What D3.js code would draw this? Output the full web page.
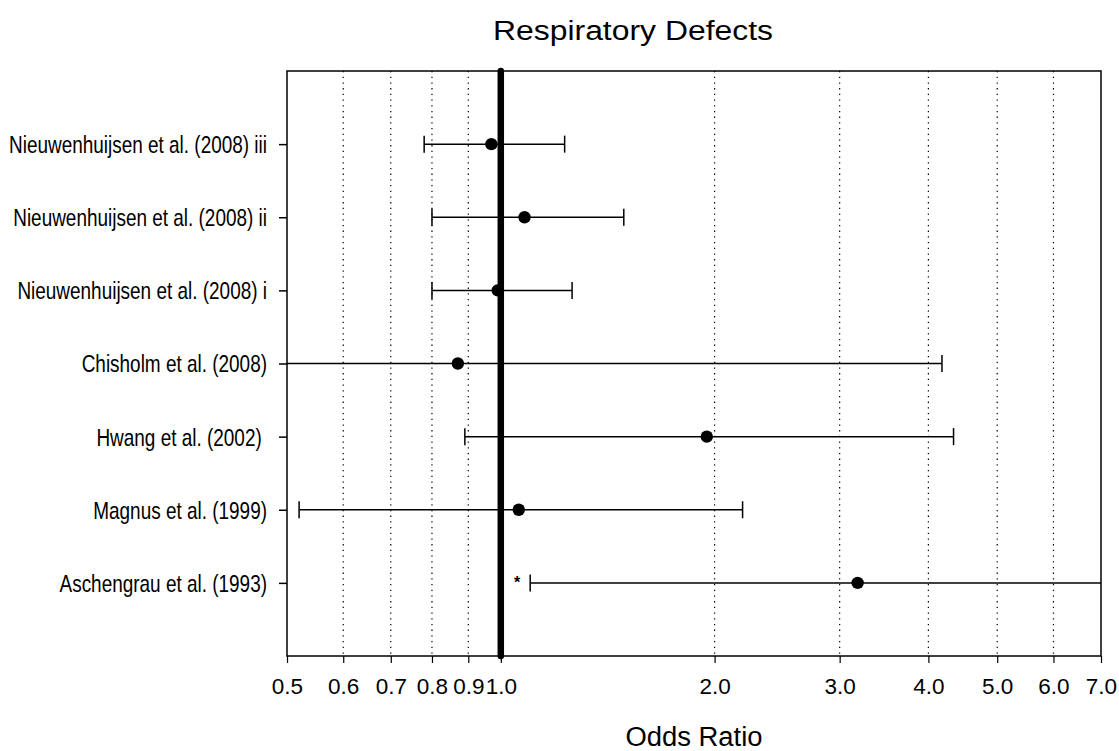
<!DOCTYPE html>
<html>
<head>
<meta charset="utf-8">
<script src="https://cdn.jsdelivr.net/npm/d3@7"></script>
<style>
  body { margin: 0; background: #fff; }
  svg { display: block; }
  text { font-family: "Liberation Sans", Arial, sans-serif; fill: #000; }
</style>
</head>
<body>
<div id="chart"></div>
<script>
'use strict';

// studies, top to bottom
const studies = [
    'Nieuwenhuijsen et al. (2008) iii',
    'Nieuwenhuijsen et al. (2008) ii',
    'Nieuwenhuijsen et al. (2008) i',
    'Chisholm et al. (2008)',
    'Hwang et al. (2002) ',
    'Magnus et al. (1999)',
    'Aschengrau et al. (1993)'
];
const oddsRatio = [0.97, 1.08, 0.99, 0.87, 1.95, 1.06, 3.18];
const lowerCI   = [0.78, 0.80, 0.80, 0.18, 0.89, 0.52, 1.10];
const upperCI   = [1.23, 1.49, 1.26, 4.18, 4.34, 2.19, 9.30];
const flagged   = [false, false, false, false, false, false, true];

const xTicks = [0.5, 0.6, 0.7, 0.8, 0.9, 1.0, 2.0, 3.0, 4.0, 5.0, 6.0, 7.0];
const gridValues = [0.6, 0.7, 0.8, 0.9, 2, 3, 4, 5, 6];

const width = 1119,
      height = 751,
      margin = { top: 71, right: 18, bottom: 95, left: 287 };

const innerW = width - margin.left - margin.right,
      innerH = height - margin.top - margin.bottom;

const rows = studies.map(function(s, i) {
    return {
        name: s,
        row: studies.length - i,
        or: oddsRatio[i],
        lo: lowerCI[i],
        hi: upperCI[i],
        flag: flagged[i]
    };
});

const x = d3.scaleLog().domain([0.5, 7.0]).range([0, innerW]);
const y = d3.scaleLinear().domain([0, studies.length + 1]).range([innerH, 0]);

const svg = d3.select('#chart').append('svg')
    .attr('width', width)
    .attr('height', height);

svg.append('defs').append('clipPath')
    .attr('id', 'plot-clip')
    .append('rect')
    .attr('width', innerW)
    .attr('height', innerH);

const g = svg.append('g')
    .attr('transform', 'translate(' + margin.left + ',' + margin.top + ')');

// dotted reference lines
g.append('g').selectAll('line')
    .data(gridValues)
    .enter()
    .append('line')
    .attr('x1', function(d) { return x(d); })
    .attr('x2', function(d) { return x(d); })
    .attr('y1', 0)
    .attr('y2', innerH)
    .style('stroke', '#000')
    .style('stroke-width', 1.2)
    .style('stroke-dasharray', '1.3,4.4');

// bottom axis
const xAxis = g.append('g')
    .attr('transform', 'translate(0,' + innerH + ')')
    .call(d3.axisBottom(x)
        .tickValues(xTicks)
        .tickFormat(function(d) { return d.toFixed(1); })
        .tickSize(7)
        .tickPadding(15));

xAxis.select('.domain').remove();
xAxis.selectAll('line').style('stroke', '#000').style('stroke-width', 1.2);
xAxis.selectAll('text')
    .style('font-size', '22.5px')
    .attr('fill', '#000');

// left axis with study names
const yAxis = g.append('g')
    .call(d3.axisLeft(y)
        .tickValues(rows.map(function(d) { return d.row; }))
        .tickFormat(function(d) { return labelFor(d); })
        .tickSize(8)
        .tickPadding(12));

function labelFor(r) {
    return rows.find(function(d) { return d.row === r; }).name;
}

yAxis.select('.domain').remove();
yAxis.selectAll('line').style('stroke', '#000').style('stroke-width', 1.5);

// labels in the reference are a condensed face
const squeeze = 0.79;
yAxis.selectAll('text')
    .style('font-size', '24px')
    .style('white-space', 'pre')
    .attr('fill', '#000')
    .attr('x', -20 / squeeze)
    .attr('dy', '0.35em')
    .attr('transform', 'scale(' + squeeze + ',1)');

// plot frame
g.append('rect')
    .attr('width', innerW)
    .attr('height', innerH)
    .style('fill', 'none')
    .style('stroke', '#000')
    .style('stroke-width', 1.5);

// null line at OR = 1
g.append('line')
    .attr('x1', x(1))
    .attr('x2', x(1))
    .attr('y1', 0)
    .attr('y2', innerH)
    .style('stroke', '#000')
    .style('stroke-width', 6.5)
    .style('stroke-linecap', 'round');

// confidence intervals
const ci = g.append('g').attr('clip-path', 'url(#plot-clip)');

const bars = ci.selectAll('.study')
    .data(rows)
    .enter()
    .append('g')
    .attr('class', 'study');

bars.append('line')
    .attr('x1', function(d) { return x(d.lo); })
    .attr('x2', function(d) { return x(d.hi); })
    .attr('y1', function(d) { return y(d.row); })
    .attr('y2', function(d) { return y(d.row); })
    .style('stroke', '#000')
    .style('stroke-width', 1.5);

// whisker caps (only drawn when inside the range)
['lo', 'hi'].forEach(function(k) {
    bars.filter(function(d) { return d[k] >= 0.5 && d[k] <= 7.0; })
        .append('line')
        .attr('x1', function(d) { return x(d[k]); })
        .attr('x2', function(d) { return x(d[k]); })
        .attr('y1', function(d) { return y(d.row) - 8.5; })
        .attr('y2', function(d) { return y(d.row) + 8.5; })
        .style('stroke', '#000')
        .style('stroke-width', 1.5);
});

bars.append('circle')
    .attr('cx', function(d) { return x(d.or); })
    .attr('cy', function(d) { return y(d.row); })
    .attr('r', 6.2)
    .style('fill', '#000');

// significance marker
g.selectAll('.flag')
    .data(rows.filter(function(d) { return d.flag; }))
    .enter()
    .append('text')
    .attr('class', 'flag')
    .attr('x', function(d) { return x(d.lo) - 13; })
    .attr('y', function(d) { return y(d.row) + 5; })
    .attr('text-anchor', 'middle')
    .style('font-size', '16px')
    .style('font-weight', 'bold')
    .text('*');

// titles
svg.append('text')
    .attr('x', 633)
    .attr('y', 40)
    .attr('text-anchor', 'middle')
    .attr('textLength', 280)
    .attr('lengthAdjust', 'spacingAndGlyphs')
    .style('font-size', '27px')
    .text('Respiratory Defects');

svg.append('text')
    .attr('x', margin.left + innerW / 2)
    .attr('y', 746)
    .attr('text-anchor', 'middle')
    .attr('textLength', 137)
    .attr('lengthAdjust', 'spacingAndGlyphs')
    .style('font-size', '27px')
    .text('Odds Ratio');
</script>
</body>
</html>
